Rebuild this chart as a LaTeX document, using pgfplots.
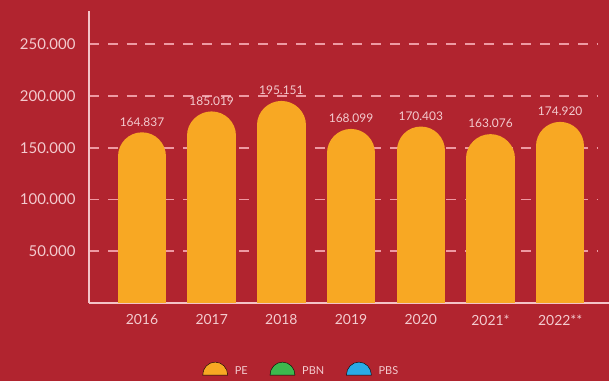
\documentclass[border=0pt]{standalone}
\usepackage{pgfplots}
\pgfplotsset{compat=1.18}
\usepackage{fontspec}
\setmainfont{Lato}
\definecolor{bg}{HTML}{B1242F}
\definecolor{barc}{HTML}{F8A823}
\definecolor{pbn}{HTML}{3DB84E}
\definecolor{pbs}{HTML}{2AA9E6}
\definecolor{txt}{HTML}{F3CBCF}
\definecolor{gridc}{HTML}{EE9AA3}
\definecolor{axc}{HTML}{F4C3C7}
\begin{document}
\begin{tikzpicture}
\fill[bg] (0,0) rectangle (609bp,381bp);
\useasboundingbox (0,0) rectangle (609bp,381bp);
\begin{axis}[
  at={(89bp,78bp)}, anchor=south west,
  scale only axis,
  width=508bp, height=292bp,
  xmin=-0.76, xmax=6.528,
  ymin=0, ymax=282000,
  scaled y ticks=false,
  /pgf/number format/assume math mode=true,
  axis x line=bottom, axis y line=left,
  x axis line style={-, color=axc, line width=1.5bp, shorten >=-12bp},
  y axis line style={-, color=axc, line width=1.5bp},
  xtick={0,1,2,3,4,5,6},
  xticklabels={2016,2017,2018,2019,2020,2021*,2022**},
  ytick={50000,100000,150000,200000,250000},
  yticklabels={50.000,100.000,150.000,200.000,250.000},
  major tick length=0pt,
  ymajorgrids,
  major grid style={color=gridc, line width=1.8bp, dash pattern=on 10bp off 8.8bp},
  xticklabel style={font=\fontsize{14}{14}\selectfont, color=txt, yshift=-8bp},
  yticklabel style={font=\fontsize{15}{15}\selectfont, color=txt, xshift=-10bp},
  clip=true,
  legend columns=-1,
  legend style={at={(0.418,-0.229)}, anchor=center, draw=none, fill=none,
    font=\fontsize{11}{11}\selectfont, text=txt,
    /tikz/every odd column/.append style={column sep=5bp},
    /tikz/every even column/.append style={column sep=20bp}},
  legend image code/.code={\fill[#1] (0bp,-4bp) -- (25bp,-4bp) arc[start angle=0, end angle=180, x radius=12.5bp, y radius=13bp] -- cycle;},
]
\addplot[ycomb, draw=barc, line width=48.5bp, line cap=round, yshift=-24.25bp, mark=none, forget plot]
  coordinates {(0,164837) (1,185019) (2,195151) (3,168099) (4,170403) (5,163076) (6,174920)};
\addlegendimage{fill=barc}
\addlegendentry{PE}
\addlegendimage{fill=pbn}
\addlegendentry{PBN}
\addlegendimage{fill=pbs}
\addlegendentry{PBS}
\addplot[draw=none, mark=none, forget plot,
  nodes near coords={\pgfmathprintnumber[1000 sep={.}, fixed, precision=0]{\pgfplotspointmeta}},
  every node near coord/.append style={font=\fontsize{12}{12}\selectfont, text=txt, anchor=south, inner sep=0pt, yshift=6bp}]
  coordinates {(0,164837) (1,185019) (2,195151) (3,168099) (4,170403) (5,163076) (6,174920)};
\end{axis}
\end{tikzpicture}
\end{document}
